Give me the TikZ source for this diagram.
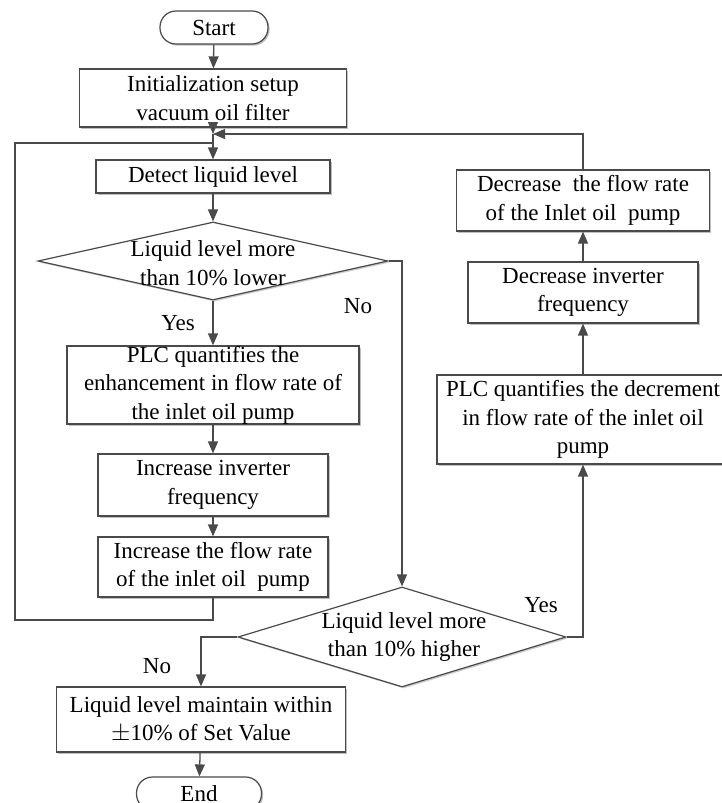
\documentclass[tikz,border=0pt]{standalone}
\usepackage{fontspec}
\setmainfont{Liberation Serif}
\usetikzlibrary{arrows.meta,shapes.geometric,shadows}
\definecolor{ln}{HTML}{4A4A4A}
\tikzset{
  every picture/.style={x=1pt,y=-1pt},
  txt/.style={align=center,font=\fontsize{23}{28.5}\selectfont,text=black,inner sep=0pt},
  box/.style={draw=ln,line width=1.2pt,fill=white,rectangle,inner sep=0pt,
     drop shadow={shadow xshift=1.6pt,shadow yshift=-1.6pt,fill=black!25,opacity=1},
     align=center,font=\fontsize{23}{28.5}\selectfont},
  term/.style={box,rounded corners=16pt},
  dia/.style={draw=ln,line width=1.2pt,fill=white,diamond,inner sep=0pt,
     drop shadow={shadow xshift=1.6pt,shadow yshift=-1.6pt,fill=black!20,opacity=1}},
  conn/.style={draw=ln,line width=1.3pt},
  arr/.style={conn,-{Triangle[length=12pt,width=10pt]}},
  lbl/.style={font=\fontsize{23}{28}\selectfont,inner sep=0pt}
}
\begin{document}
\begin{tikzpicture}
\useasboundingbox (0,0) rectangle (721,803);
% left column
\node[term,minimum width=108pt,minimum height=33pt] (start) at (214,27.5) {Start};
\node[box,minimum width=267pt,minimum height=58pt] (init) at (213,98) {Initialization setup\\vacuum oil filter};
\coordinate (j1) at (213,134);
\node[box,minimum width=234pt,minimum height=33pt] (detect) at (213,176.5) {Detect liquid level};
\node[dia,minimum width=350pt,minimum height=78pt] (d1) at (213,261) {};
\node[txt] (d1t) at (213,263) {Liquid level more\\than 10\% lower};
\node[box,minimum width=292pt,minimum height=78pt] (plc1) at (213,385) {PLC quantifies the\\enhancement in flow rate of\\the inlet oil pump};
\node[box,minimum width=230pt,minimum height=62pt] (incinv) at (213,485) {Increase inverter\\frequency};
\node[box,minimum width=230pt,minimum height=60pt] (incflow) at (213,567) {Increase the flow rate\\of the inlet oil\ \ pump};
\node[dia,minimum width=328pt,minimum height=100pt] (d2) at (402,637) {};
\node[txt] (d2t) at (404,637) {Liquid level more\\than 10\% higher};
\node[box,minimum width=289pt,minimum height=65pt] (maint) at (201,719.5) {Liquid level maintain within\\$\pm$10\% of Set Value};
\node[term,minimum width=125pt,minimum height=33pt] (end) at (199,793.5) {End};
% right column
\node[box,minimum width=292pt,minimum height=89pt] (plc2) at (583,419.5) {PLC quantifies the decrement\\in flow rate of the inlet oil\\pump};
\node[box,minimum width=230pt,minimum height=61pt] (decinv) at (583,292.5) {Decrease inverter\\frequency};
\node[box,minimum width=253pt,minimum height=61pt] (decflow) at (583,200.5) {Decrease\ \ the flow rate\\of the Inlet oil\ \ pump};
% labels
\node[lbl] (no1) at (358,306) {No};
\node[lbl] (yes1) at (178,323) {Yes};
\node[lbl] (yes2) at (541,605) {Yes};
\node[lbl] (no2) at (157,666) {No};
% connectors
\draw[arr] (start) -- (init);
\draw[arr] (init) -- (j1);
\draw[arr] (decflow.north) |- (j1);
\draw[arr] (j1) -- (detect);
\draw[arr] (detect) -- (d1.north);
\draw[arr] (d1.south) -- (plc1);
\draw[arr] (plc1) -- (incinv);
\draw[arr] (incinv) -- (incflow);
\coordinate (lb) at (213,620);
\coordinate (ll) at (15,620);
\coordinate (lt) at (15,143);
\coordinate (lj) at (213,143);
\draw[conn] (incflow.south) -- (lb) -- (ll) -- (lt) -- (lj);
\coordinate (r1) at (402,261);
\draw[arr] (d1.east) -- (r1) -- (d2.north);
\coordinate (r2) at (583,637);
\draw[arr] (d2.east) -- (r2) -- (plc2.south);
\draw[arr] (plc2) -- (decinv);
\draw[arr] (decinv) -- (decflow);
\coordinate (l2) at (201,637);
\draw[arr] (d2.west) -- (l2) -- (maint.north);
\draw[arr] (maint) -- (end);
\end{tikzpicture}
\end{document}
